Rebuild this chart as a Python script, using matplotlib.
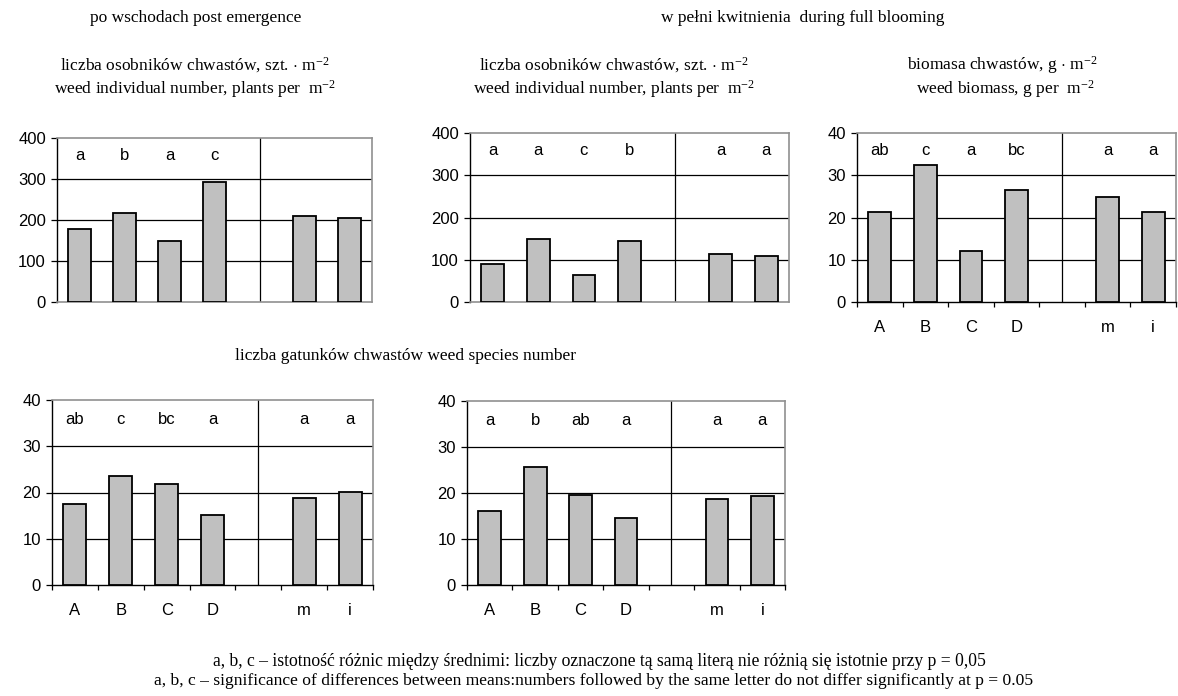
import numpy as np
import matplotlib
matplotlib.use("Agg")
import matplotlib.pyplot as plt

plt.rcParams['font.family'] = ['Liberation Sans', 'DejaVu Sans']
plt.rcParams['mathtext.fontset'] = 'custom'
plt.rcParams['mathtext.rm'] = 'Liberation Serif'
plt.rcParams['mathtext.it'] = 'Liberation Serif:italic'

# categories: 4 treatments, an empty slot, then 2 more
categories = ["A", "B", "C", "D", "", "m", "i"]

# values (None = empty slot)
post_number = [178, 217, 148, 292, None, 210, 206]
bloom_number = [91, 148, 64, 145, None, 113, 110]
bloom_biomass = [21.3, 32.5, 12.1, 26.5, None, 24.9, 21.3]
post_species = [17.5, 23.6, 21.9, 15.1, None, 18.8, 20.2]
bloom_species = [16.1, 25.6, 19.5, 14.6, None, 18.6, 19.3]

post_number_letters = ["a", "b", "a", "c", "", "", ""]
bloom_number_letters = ["a", "a", "c", "b", "", "a", "a"]
bloom_biomass_letters = ["ab", "c", "a", "bc", "", "a", "a"]
post_species_letters = ["ab", "c", "bc", "a", "", "a", "a"]
bloom_species_letters = ["a", "b", "ab", "a", "", "a", "a"]

W, H = 1178, 696
fig = plt.figure(figsize=(W / 100, H / 100), dpi=100)


def px_axes(left, top, right, bottom):
    # pixel box -> figure fraction axes
    return fig.add_axes([left / W, 1 - bottom / H, (right - left) / W, (bottom - top) / H])


def draw_panel(ax, values, letters, ymax, step, show_x):
    x = np.arange(len(categories))
    for xi, v in zip(x, values):
        if v is not None:
            ax.bar(xi, v, width=0.5, color="#c0c0c0", edgecolor="black", linewidth=1.3, zorder=3)
    for xi, lab in zip(x, letters):
        if lab:
            ax.text(xi, ymax * 0.895, lab, ha="center", va="center", fontsize=12)
    ax.set_xlim(-0.5, len(categories) - 0.5)
    ax.set_ylim(0, ymax)
    ticks = np.arange(0, ymax + step / 2, step)
    ax.set_yticks(ticks)
    ax.set_yticklabels([str(int(t)) for t in ticks], fontsize=12)
    for t in ticks[1:-1]:
        ax.axhline(t, color="black", linewidth=0.9, zorder=1)
    ax.axvline(4, color="black", linewidth=0.9, zorder=1)
    ax.tick_params(axis="y", length=4, width=0.9, pad=4)
    ax.spines["left"].set_color("black")
    ax.spines["left"].set_linewidth(1.0)
    for s in ["top", "right"]:
        ax.spines[s].set_color("#909090")
        ax.spines[s].set_linewidth(1.2)
    if show_x:
        ax.spines["bottom"].set_color("black")
        ax.spines["bottom"].set_linewidth(1.0)
        ax.set_xticks(x)
        ax.set_xticklabels(categories, fontsize=12)
        ax.set_xticks(np.arange(-0.5, len(categories)), minor=True)
        ax.tick_params(axis="x", which="major", length=0, pad=13)
        ax.tick_params(axis="x", which="minor", length=3.5, width=0.9, direction="out")
    else:
        ax.spines["bottom"].set_color("#909090")
        ax.spines["bottom"].set_linewidth(1.2)
        ax.set_xticks([])


ax1 = px_axes(57, 138, 372, 302)
draw_panel(ax1, post_number, post_number_letters, 400, 100, False)
ax2 = px_axes(470, 133, 789, 302)
draw_panel(ax2, bloom_number, bloom_number_letters, 400, 100, False)
ax3 = px_axes(857, 133, 1176, 302)
draw_panel(ax3, bloom_biomass, bloom_biomass_letters, 40, 10, True)
ax4 = px_axes(52, 400, 373, 585)
draw_panel(ax4, post_species, post_species_letters, 40, 10, True)
ax5 = px_axes(467, 401, 785, 585)
draw_panel(ax5, bloom_species, bloom_species_letters, 40, 10, True)

serif = dict(family="Liberation Serif", fontsize=12.5, ha="center", va="center")


def ftext(x, y, s, **kw):
    opts = dict(serif)
    opts.update(kw)
    fig.text(x / W, 1 - y / H, s, **opts)


ftext(196, 18, "po wschodach post emergence")
ftext(803, 18, "w pełni kwitnienia  during full blooming")

ftext(195, 65, r"liczba osobników chwastów, szt. $\cdot$ m$^{-2}$")
ftext(195, 89, r"weed individual number, plants per  m$^{-2}$")
ftext(614, 65, r"liczba osobników chwastów, szt. $\cdot$ m$^{-2}$")
ftext(614, 89, r"weed individual number, plants per  m$^{-2}$")
ftext(1002, 65, r"biomasa chwastów, g $\cdot$ m$^{-2}$")
ftext(1005, 89, r"weed biomass, g per  m$^{-2}$")

ftext(405, 356, "liczba gatunków chwastów weed species number")

ftext(599, 661, "a, b, c – istotność różnic między średnimi: liczby oznaczone tą samą literą nie różnią się istotnie przy p = 0,05", fontsize=12.7)
ftext(594, 681, "a, b, c – significance of differences between means:numbers followed by the same letter do not differ significantly at p = 0.05", fontsize=12.6)

fig.savefig("out.png", dpi=100)
